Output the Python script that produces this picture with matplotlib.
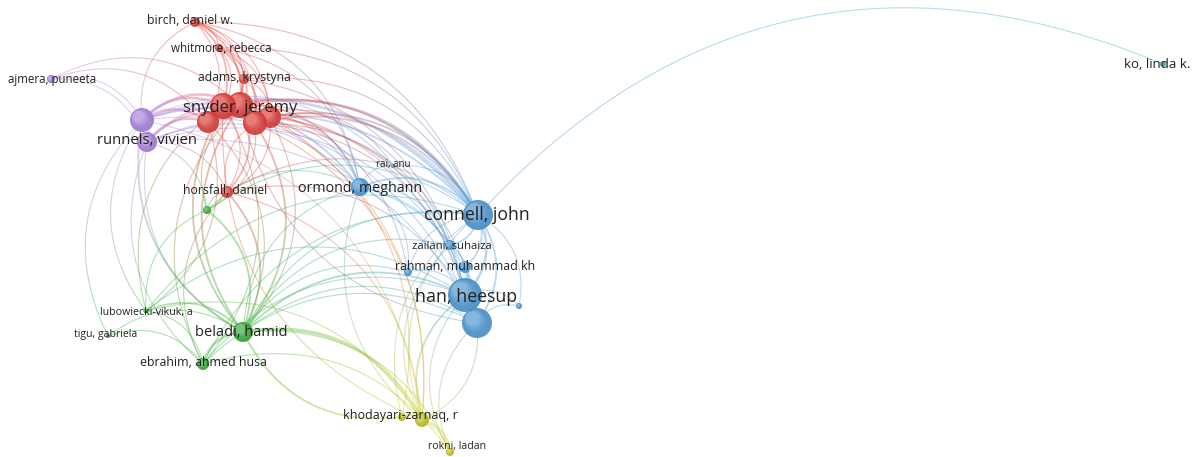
"""Co-authorship network (VOSviewer style) redrawn with matplotlib."""

import matplotlib
matplotlib.use("Agg")
import matplotlib.pyplot as plt
import numpy as np
from matplotlib.collections import LineCollection
from matplotlib.colors import to_rgb
from matplotlib.patches import Circle

# --- nodes: id, cluster, x, y (layout units), weight ---
node_ids = ["birch", "whitmore", "adams", "snyder", "red_a", "red_b", "red_c", "red_d",
            "horsfall", "runnels", "purple_b", "ajmera", "ormond", "rai", "connell",
            "zailani", "rahman", "blue_s", "han", "han_b", "blue_t", "ko",
            "beladi", "ebrahim", "lubow", "tigu", "green_s", "khod", "yellow_b", "rokni"]
node_cluster = ["red", "red", "red", "red", "red", "red", "red", "red",
                "red", "purple", "purple", "purple", "blue", "blue", "blue",
                "blue", "blue", "blue", "blue", "blue", "blue", "cyan",
                "green", "green", "green", "green", "green", "yellow", "yellow", "yellow"]
node_x = [195, 219, 244, 240, 223, 208, 255, 270,
          227, 142, 147, 51, 360, 393, 478,
          450, 465, 408, 465, 477, 519, 1163,
          243, 203, 146, 108, 207, 422, 402, 450]
node_y = [22, 48, 79, 105, 106, 122, 123, 117,
          192, 120, 142, 79, 187, 166, 215,
          245, 267, 272, 295, 323, 306, 64,
          332, 364, 311, 336, 210, 420, 417, 452]
node_r = [5, 4, 5, 13, 13, 11, 12, 11,
          6, 12, 10, 4, 9, 2, 15,
          5, 6, 4, 17, 15, 3, 3,
          10, 6, 2.5, 2, 4, 7, 4, 4]

# --- labels: text, anchor x, y, font size ---
label_text = ["birch, daniel w.", "whitmore, rebecca", "adams, krystyna", "snyder, jeremy",
              "runnels, vivien", "ajmera, puneeta", "horsfall, daniel", "ormond, meghann",
              "rai, anu", "connell, john", "zailani, suhaiza", "rahman, muhammad kh",
              "han, heesup", "beladi, hamid", "lubowiecki-vikuk, a", "tigu, gabriela",
              "ebrahim, ahmed husa", "khodayari-zarnaq, r", "rokni, ladan", "ko, linda k."]
label_x = [190, 221, 244, 240, 147, 52, 225, 360, 393, 477, 452, 465,
           466, 241, 146, 106, 203, 400, 457, 1157]
label_y = [21, 48, 77, 108, 140, 79, 190, 188, 165, 215, 246, 267,
           297, 333, 313, 335, 362, 416, 446, 65]
label_size = [8.8, 8.4, 8.8, 12, 10.7, 8.3, 8.8, 10.3, 7, 12.7, 8.2, 8.9,
              12.8, 10.5, 7.7, 7.6, 8.9, 9.0, 7.6, 9.5]

# --- links: source, target, strength ---
links = [
    ("birch", "snyder", 2), ("birch", "red_a", 2), ("birch", "red_b", 1), ("birch", "red_c", 1),
    ("birch", "red_d", 1), ("birch", "whitmore", 1), ("birch", "adams", 1),
    ("whitmore", "snyder", 2), ("whitmore", "red_a", 1), ("whitmore", "red_c", 1),
    ("whitmore", "red_d", 1), ("whitmore", "adams", 1),
    ("adams", "snyder", 2), ("adams", "red_a", 1), ("adams", "red_c", 1), ("adams", "red_d", 1),
    ("adams", "red_b", 1),
    ("red_a", "snyder", 3), ("snyder", "red_c", 3), ("red_d", "snyder", 2), ("red_b", "red_a", 3),
    ("red_c", "red_d", 2), ("red_b", "red_c", 2),
    ("snyder", "horsfall", 2), ("red_a", "horsfall", 1), ("horsfall", "red_c", 1), ("red_d", "horsfall", 1),
    ("runnels", "birch", 1), ("birch", "connell", 1), ("whitmore", "ormond", 1), ("birch", "ormond", 1),
    ("adams", "connell", 1), ("whitmore", "connell", 1), ("adams", "han", 1),
    ("ajmera", "runnels", 1), ("ajmera", "purple_b", 1), ("ajmera", "red_b", 1), ("ajmera", "snyder", 1),
    ("runnels", "purple_b", 3), ("runnels", "red_b", 3), ("runnels", "red_a", 3), ("runnels", "snyder", 3),
    ("purple_b", "red_c", 2), ("purple_b", "red_d", 2), ("purple_b", "red_b", 2),
    ("runnels", "connell", 3), ("purple_b", "connell", 2), ("runnels", "ormond", 2),
    ("purple_b", "ormond", 1), ("runnels", "rai", 1), ("purple_b", "zailani", 1),
    ("beladi", "runnels", 2), ("beladi", "purple_b", 1), ("lubow", "runnels", 1),
    ("ebrahim", "purple_b", 1), ("tigu", "runnels", 1), ("purple_b", "horsfall", 1),
    ("purple_b", "green_s", 1), ("runnels", "han", 1), ("purple_b", "han_b", 1), ("runnels", "khod", 1),
    ("beladi", "snyder", 2), ("beladi", "red_a", 2), ("red_c", "beladi", 2), ("red_d", "beladi", 1),
    ("red_b", "beladi", 1), ("ebrahim", "snyder", 1), ("red_a", "ebrahim", 1), ("green_s", "snyder", 1),
    ("red_c", "green_s", 1), ("lubow", "red_a", 1), ("red_b", "lubow", 1), ("horsfall", "beladi", 2),
    ("ebrahim", "horsfall", 1), ("green_s", "horsfall", 1),
    ("snyder", "connell", 3), ("red_a", "connell", 2), ("red_c", "connell", 2), ("red_d", "connell", 2),
    ("red_b", "connell", 1), ("snyder", "ormond", 2), ("red_d", "ormond", 1), ("red_c", "ormond", 1),
    ("snyder", "zailani", 1), ("red_d", "han", 2), ("red_c", "han", 1), ("han_b", "snyder", 1),
    ("red_c", "rahman", 1), ("red_d", "rai", 1), ("snyder", "blue_s", 1), ("horsfall", "han", 1),
    ("horsfall", "connell", 1), ("red_a", "han", 1),
    ("snyder", "khod", 1), ("red_c", "khod", 1), ("red_d", "yellow_b", 1), ("khod", "red_a", 1),
    ("horsfall", "khod", 1),
    ("ormond", "connell", 2), ("rai", "connell", 1), ("ormond", "rai", 1), ("connell", "zailani", 2),
    ("connell", "rahman", 2), ("connell", "han", 3), ("connell", "han_b", 2), ("blue_s", "connell", 1),
    ("connell", "blue_t", 1), ("zailani", "han", 2), ("rahman", "han", 2), ("blue_s", "han", 1),
    ("han", "han_b", 3), ("han", "blue_t", 1), ("han_b", "blue_t", 1), ("ormond", "han", 1),
    ("ormond", "zailani", 1), ("ormond", "blue_s", 1), ("ormond", "han_b", 1), ("connell", "ko", 1),
    ("ebrahim", "beladi", 3), ("lubow", "beladi", 2), ("tigu", "beladi", 1), ("lubow", "ebrahim", 1),
    ("tigu", "ebrahim", 1), ("green_s", "beladi", 2), ("lubow", "green_s", 1),
    ("beladi", "khod", 4), ("yellow_b", "beladi", 2), ("beladi", "han", 2), ("beladi", "han_b", 1),
    ("ebrahim", "han", 1), ("ebrahim", "han_b", 1), ("beladi", "connell", 1), ("beladi", "ormond", 1),
    ("lubow", "connell", 1), ("lubow", "han", 1), ("green_s", "connell", 1), ("green_s", "ormond", 1),
    ("beladi", "zailani", 1), ("beladi", "blue_s", 1), ("ebrahim", "connell", 1),
    ("khod", "rokni", 2), ("yellow_b", "khod", 2), ("yellow_b", "rokni", 1), ("khod", "han", 2),
    ("han_b", "khod", 1), ("rokni", "han", 1), ("rokni", "han_b", 1), ("khod", "connell", 1),
    ("yellow_b", "connell", 1), ("beladi", "rokni", 1), ("ebrahim", "rokni", 1), ("khod", "zailani", 1),
    ("lubow", "khod", 1), ("khod", "ormond", 1),
]

CLUSTER_COLORS = {
    "red": "#e8433e", "purple": "#b088e6", "blue": "#519fdc",
    "green": "#3cb43c", "yellow": "#cccc22", "cyan": "#3ab5c5",
}


def bezier(p0, p2, curv=0.35, n=40):
    """Quadratic curve bending clockwise from p0 to p2 (screen coords, y down)."""
    p0, p2 = np.asarray(p0, float), np.asarray(p2, float)
    d = p2 - p0
    ctrl = (p0 + p2) / 2 + curv * np.array([d[1], -d[0]])
    t = np.linspace(0, 1, n)[:, None]
    return (1 - t) ** 2 * p0 + 2 * t * (1 - t) * ctrl + t ** 2 * p2


def main():
    idx = {k: i for i, k in enumerate(node_ids)}
    col = [np.array(to_rgb(CLUSTER_COLORS[c])) for c in node_cluster]

    fig = plt.figure(figsize=(11.97, 4.57), dpi=100)
    ax = fig.add_axes([0, 0, 1, 1])
    ax.set_xlim(0, 1197)
    ax.set_ylim(457, 0)
    ax.axis("off")

    # --- links, colour blended from source to target ---
    segs, cols, lws = [], [], []
    for a, b, w in links:
        i, j = idx[a], idx[b]
        pts = bezier((node_x[i], node_y[i]), (node_x[j], node_y[j]))
        n = len(pts) - 1
        for k in range(n):
            f = (k + 0.5) / n
            c = (1 - f) * col[i] + f * col[j]
            segs.append(pts[k:k + 2])
            cols.append((*c, 0.4))
            lws.append(0.25 + 0.55 * w)
    ax.add_collection(LineCollection(segs, colors=cols, linewidths=lws,
                                     capstyle="butt", zorder=1))

    # --- nodes with a soft highlight ---
    order = np.argsort(node_r)
    for i in order:
        x, y, r, c = node_x[i], node_y[i], node_r[i], col[i]
        for s in np.linspace(0, 1, 7):
            shade = (1 - s) * (c * 0.88) + s * (0.55 * c + 0.45)
            rr = r * (1 - 0.55 * s)
            ax.add_patch(Circle((x - 0.3 * r * s, y - 0.3 * r * s), rr,
                                fc=shade, ec="none", alpha=0.9 if s == 0 else 0.35,
                                zorder=2))

    for t, x, y, s in zip(label_text, label_x, label_y, label_size):
        ax.text(x, y, t, ha="center", va="center", fontsize=s,
                family=["Open Sans", "DejaVu Sans"], color="#222222", zorder=3)

    fig.savefig("out.png", dpi=100, facecolor="white")


if __name__ == "__main__":
    main()
